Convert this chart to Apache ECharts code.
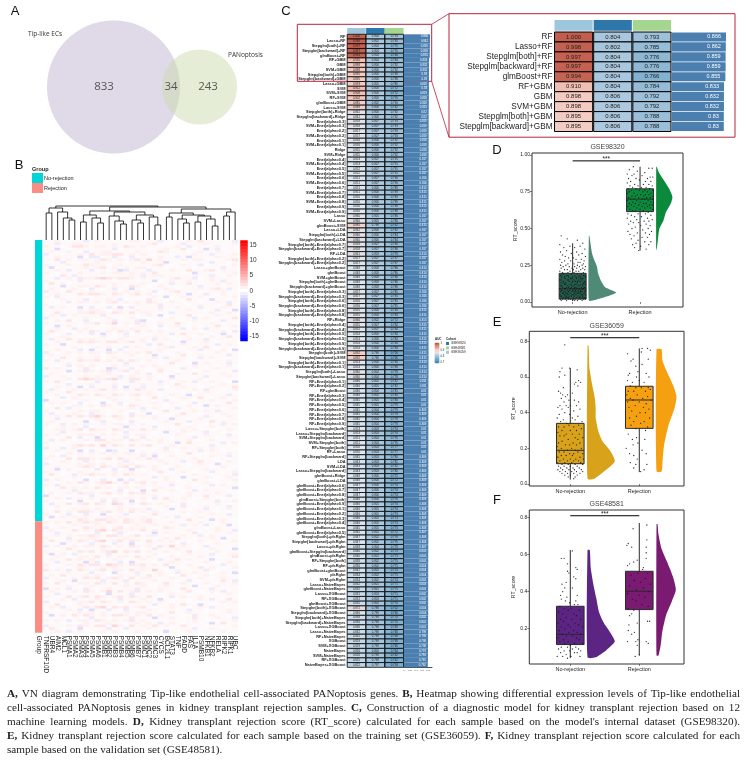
<!DOCTYPE html>
<html><head><meta charset="utf-8"><style>html,body{margin:0;padding:0;background:#fff}#c{width:748px;height:760px}</style>
<script src="https://cdn.jsdelivr.net/npm/echarts@6/dist/echarts.min.js"></script></head><body><div id="c"></div>
<script>
// ---------- Panel A: Venn ----------
const vennNames = ['Tip-like ECs','PANoptosis'];
const vennCounts = [833,34,243];
// ---------- Panel B: heatmap ----------
const genes = ['TNFRSF10D','UBR4','AIM2','MCL1','PSMA1','PSMA2','PSMA3','PSMA4','PSMA5','PSMA6','PSMB1','PSMB2','PSMB3','PSMB4','PSMB5','PSMB6','PSMB7','PSMC1','PSMC2','PSMC3','CYCS','BCL2L1','STAT3','TNF','FADD','FAS','IL1A','PSMB10','NFKB1','NFKB2','RELA','RIPK2','RIPK1','UBC'];
const groupNames = ['No-rejection','Rejection'];
const heatLevels = {z:-4,y:-2.2,x:-1.2,'-':-0.2,'.':0.45,p:0.9,q:1.6,r:2.6};
const heatRowsNoRejection = [
'..p.-..x.p..-..pp...x.-..p.q..-..x','-.x..pp.....p.-...pq..-.x...p..-.p','p..-.qqp.pp.p.qp.p..-..p.x..-.p...','..y.-.......x-....-..p..q.-.y.x-..',
'.p..p.-x..pp...-p...qp...-.p..p.-.','x..-..p.q.ppqq.p.p.-..-...p..x...p','.-p...y-xx-.x.-x-...p..x.y..-.p...','..q.p.pp.pqp.p.pq.r.p...p.pp..-.pq',
'-..x.-...p....-..p...y..-....x..-.','p...p..qp..-.p..-..pq.-.p..x-...-p','.y-.-..p.pq.p.p.pp...-.-..-..-.x..','..p.x...x-.-.yx..-x...p..q..pq.p..',
'p.-...p...p.pp.p.p.q-...-.y...-..p','.-.q.x.-..-....p.x.pp..-..p..x.-p.','..x.p.qppqrqpqqp.p....pq..x-.p...-','p..-..x..-..-...-..y-.p-.p...p.x..',
'.q.p-.......p.-..p.-..x..q.-..p.p.','-..y..pp.qp.p..qp.-.p..-.-.x...-..','.p.-.p.-x.-.x-.y.-...p.-...p.pq.x.','x...q...p...p.p.p..x-.pq.-.-...p.-',
'..p.-.qpqqp.qp.pq.p.-....y..x.-p..','p.x..-..-.-...-....p.y-.p..p.-...p','.-.p...x...p.x-.-.x..-...q.-.y..-.','..-.x.pp.p.pq.p.p.qp..p.-..-..p.x.',
'p...-.....-...-.p...x..-.-.p..-.q.','.x.p.-y-x-.x.y.x-...q..p...x...p..','...-..p.pp.-.p..p...p.-..p..-.x.-y','-.q...ppqpp.qp.q.pp.-.x..-...p..p.',
'.p.x.p....x.-...-.p.y-...q.-..p...','x..-...p...p.-.p..-...p.-.x.p.-..q','.-p.q-.x.-..x...xy.-...-..p..-.x..','p.-....ppq.pr.p.qp..p..q.-...p.-.-',
'..y.p.-.-.-..-.-.p.-x..p.-.-..q..p','-.p..x.p.-..p..p...-.-..x.p.x..-..','.q..-.p.qp.p.qp.q.p.p...-..-...p-x','p.-.x...x-y.-.x-..-...x.q..p.-.y..',
'...p..-.-.p.-.p..-.p..-...-..p..q.','.x..q.p.p..-.p.-.p.x.p.-.p..x...-.','-.p.-.qpqp.qq.pq.p...-..y...p.-...','p..y.-...-..-..-.-x.q...p.-...x.p.',
'.-...p.-.p.p..x.p..-.px.-.p.q.-...','..p.-.x-y-.y-x-.-...p..-...x...p-y','x.-.p.p.pp.qp.p.p.q..-.p.-..-.p...','.p...-.-..-..-.p.-.y..-.q..p..-.x.',
'-..q..p..p-.p..-...p.x...-.x.p..-.','p.x.-.qppq.p.q.qp.p.-..p.-...-..p.','.-..p..-.-...-x..-..-.q..-y.p...x.','..-.x.p.p.-.p.p..p.p...-..p...-.p-',
'q.p..-.x.-.yx.-x-.-.p.-.x...-.p...','-...y.pqp.pq.pq.p.-.q..-..-.p.-..x','.p.-..-..-.p..-.p.x..-.p..q..-.p..','x..p.-.p.p.-.x.p..p.-.y...-.x...p.',
'..-.p.qrqppqrp.qq.p...p.-..p.-.-..','p.q.-.-.-x.-.-.x.-.-x.-.p.x..p..-y','.-..x...p...p.-..p..p..q.-...-.p..','-.p...y-x.-.x-y..x...-..p..-.p...q',
'.x.-.p.p.pq.p.p.qp..x.-...p.x..-.p','p...q.-...-..-..-.p.-...-.-.p.-..-','..p.-.qp.qp.qp.pq.p.-.p..y..-...x.','.-.x.p.-.-.p..-..-.q..-.p..q.-.p..',
'y..-...p..-.p...p..-.x.-..-..p..-p','.p.p.-x-.-y-.x-.-..p..p.-.x...-.q.','-.-..pp.p.qp.p.qp.-..-...p..y.p...','..q.x..-.-...-.p.x.p.-.x...-...-.p',
'p.-.-.p.pp.-.p.-.p.-.q..-.p.p.x..-','.x...p.-x..-..-x..y-..-.q..-...p..','..p.q.qpqrp.qp.q.p.p.-.p..-.x.-.p.','-.x.-..-.p.-.p..-..p..y..-.p...-..',
'.p...-.y-.x.-.-x.-.-.p.-.x...q.p.-','p..x.p.p..p.pp.p.p.-...q.-..-..x.p','.-.p...x-.-.-.y..-.x-.-..p.-.p...-',
'..pp.pq.qpp.qp.p.q.p....p.p..-..p.','-..x...-...-..x.-..-.y..p.-.x..-.-','p.p.-.ppp.p.p.p.pp.-.-.p.-..p...x.','..-.q.x-.y-.-.x-.x-...-...x...-.p.',
'.x.p.-.p.qq.pp.qp.p.p.-..p.-.p...-','p...-..-...p..-...-.p..y.q..-..x.p.','.-.-.pqpq.r.qp.q.pq.-.p....-.x..-.','q..x.p.-.-..-..-.-.-.x..p..p.p...-',
'..p...y-x.-yx-.y-.-..p.-.-.x.p.-..','-.-.p.p.p.p.p.pp.p.p...-.q..-...p.','.p.x.-.-..-...-..x.y-.p..-.-.p..x.','p...q.qqp.pq.qp.p.qp..-...p..-..-.',
'.-.p.-.x.-..-.x.-...p.-.x..q..-.p.','x.-...p.p.p-.p.p.-.-.p...-.p..y...','..p.-.pqp.qp.pq.qp.p.-.p.-...-.p.-','-.y.p.-.-x.-x-.y.-.p..x...-.p...-.',
'p..-..p...-.p..p.-..q.-.p.-..x.-.p','.q.-.x.pqpp.p.qp.p.-.-..-.p..-...x','.-...p.-.-.-..-..-.x.p..y.-.p.-.p.','x.p.-.-y-.x.-y.x-..-.p.-..q..-...p',
'..-.p.qp.pqrp.q.pq.p..p.-...p.-.-.','p.x...-.-.p.-..-.p..-.x...-..x.p..','.-.q.p.p.q.p.pp.p.-.p..-.p.-...-.y','-..-.x.-...-.x-.-y.q..p.-.x.p...-.',
'.p..p.qpp.pq.p.qpq.-.-...p..-.p..-','y.-.-.-.x.-.-.-.-..p.-.-.p..q.-.x.','..p.x.p.p.p.p.pp.p.x.q..p.-.p..-..','p.-.-.y-.-x-x.-y-.-...p..-..-.x..p',
'.x..q.pq.qp.rq.p.qp.p.-.x.-...p.-.','-.p.-...-..-.p..-..-.p..q.-.p...x.','.-.-.p.p.p.-.p.pp.x.-.y..-..x.-.p.','..q.p.qqp.pq.p.q.p.p..-.p..p..-.-.',
'p.-.x.-x.-y-..x-.-.q.-...-.-.p..x.','.y.p.p.p.-.p.p.-.p.-.p.x.-.p..-...','-...-.qp.qqpp.qp.pq..-...q.-.y.p.-'];
const heatRowsRejection = [
'p.p.q.pqpp.qp.qp.pq.-.p.-..p...p.-','.-.-.p.-.p.-..-.p..p..-.x.p.x.-.y.','x..p.-.qp.p.pq.p.p.-.qp..-..-.p...','.p.-.q.p.qr.qp.p.q.p...-.p.-..p..x',
'-.x...-.-x.-.x.-.-.y.p..-.q..-..p.','..p.p.ppqp.qqp.pq.pp.-..p..x.p..-.','p.-.x.-.p.-.-.p..-.-.p.q..-..p.y..','.q..p.qp.qr.pq.qp.q.p.p..-.p...-.p',
'.-.y..-.x.--x..y-.p.-...x.-.-.p...','x.p..p.pp.qp.p.qp.p.q.r.p.-.x...-.','..-.q.-.-.p.-..-.-.x.-.p..-..p.-.y','p...-.qpq.pqr.qpq.p..p...q..-.p...',
'.y.p.x.-.-.x-..-.-.p.-.-.p...x.-.p','-.p.-.pp.q.p.pp.q.p.-.p..-.p..-..q','.p..q.p.p.-.p.-..p..x..q.p.-.y...-','..x.-.-y.x-.-x-y.-.-..p..-..p.-.p.',
'p.-.p.qpqq.rqp.qpq.p.q...p.-...x..','.-..-.p.-.p.p..-.p..-.y.-..q.p.-.p','q.p.x.qp.pq.pp.q.p.r.-.p.-..x.-...','-.-.p.-.x-.-y.-.x.-.p..x..p..-.p.y',
'.p.q...p.p.-.p..p.q.p.-.q.-.p...-.','x..-.p.qpq.pqp.q.pp.-.p.-..p.-.p..','.-.p.y.-.-x.-.x-.-.p...-.x.-...q.x','p.q.-.pp.qp.q.p.qp.-.q..p...p.-..p',
'..-.p.-.p...-.p..p.-.p.-..y.-.p...','y.p.x.-x.-.p.-..x...p.-.q.-..x..-.','.p.-.p.qp.pr.q.pq.p.p..-.q.-.p.x..','..x.-.-.-.-y.-.x-.-.-.p..-..-.-.p.',
'p.-.q.pq.qp.pq.qp.q.-.x.p..p...-.-','.-.p.x.-.p.-.x.-.p..y..-.-.p.x..q.','x.-.-.ppq.qp.p.qp.p.p.-..-.-...p.p','..q.-.p.-.-..-.-.-.x..p.q..y.-.-..',
'.p.x.-.qpqr.qpq.pq.-..p..-.p.x..-.','-.-.p.x-y.-x.-x.-.p.-..-.x..-...p.','p...-.p.p.p.-.p.pp..-.q..p..-.-.p.','.y.p.q.qp.p.qqp.p.q.p.-.-.x..p..-.',
'..-.-.-.x-.-.-.x.-.y..p.-.q.-.p..x','p.p.x.pp.qp.p.pq.p.-.-.-..p.-.-..p','.-.-.-.p.-.p..-.p.p.x.p.-..-.y.q..','x...p.qp.qq.rp.q.p.q.p..q.-.-..-.p',
'.q.-.-y-.-.x-.x.-.p.-.-...x..p.-..','-.p.x.p.-.p.p.-.p.-..y.-.p.-.-.p..'
];
const colorBarValues = [16,15,14,13,12,11,10,9,8,7,6,5,4,3,2,1,0,-1,-2,-3,-4,-5,-6,-7,-8,-9,-10,-11,-12,-13,-14,-15,-16];
const dendrogram = [34,[32,[27,0,0],[28,0,[22,0,[20,0,0]]]],[33,[29,[25,[18,0,0],[22,0,[17,0,0]]],[28,[24,0,[19,0,[16,0,0]]],[25,[20,0,[17,0,0]],[23,0,[15,0,0]]]]],[31,[27,[23,0,0],[25,[21,0,[17,0,0]],[24,[18,0,0],[21,0,[14,0,0]]]]],[28,[24,0,0],0]]]];
// ---------- Panel C: model table ----------
const cohortNames = ['GSE36059','GSE98320','GSE48581'];
const aucLegendValues = [1,0.98,0.96,0.94,0.92,0.9,0.88,0.86,0.84,0.82,0.8,0.78,0.76,0.74,0.72,0.7];
const modelLabels = ['RF','Lasso+RF','Stepglm[both]+RF','Stepglm[backward]+RF','glmBoost+RF','RF+GBM','GBM','SVM+GBM','Stepglm[both]+GBM','Stepglm[backward]+GBM',
'Lasso+GBM','SVM','SVM+SVM','RF+SVM','glmBoost+GBM','Lasso+SVM','Stepglm[both]+Ridge','Stepglm[backward]+Ridge','Enet[alpha=0.3]','SVM+Enet[alpha=0.3]',
'Enet[alpha=0.2]','SVM+Enet[alpha=0.2]','Enet[alpha=0.1]','SVM+Enet[alpha=0.1]','Ridge','SVM+Ridge','Enet[alpha=0.4]','SVM+Enet[alpha=0.4]','Enet[alpha=0.5]','SVM+Enet[alpha=0.5]',
'Enet[alpha=0.6]','SVM+Enet[alpha=0.6]','Enet[alpha=0.7]','SVM+Enet[alpha=0.7]','Enet[alpha=0.8]','SVM+Enet[alpha=0.8]','Enet[alpha=0.9]','SVM+Enet[alpha=0.9]','Lasso','SVM+Lasso',
'glmBoost+SVM','Lasso+LDA','Stepglm[both]+LDA','Stepglm[backward]+LDA','Stepglm[both]+Enet[alpha=0.7]','Stepglm[backward]+Enet[alpha=0.7]','RF+LDA','Stepglm[both]+Enet[alpha=0.2]','Stepglm[backward]+Enet[alpha=0.2]','Lasso+glmBoost',
'glmBoost','SVM+glmBoost','Stepglm[both]+glmBoost','Stepglm[backward]+glmBoost','Stepglm[both]+Enet[alpha=0.3]','Stepglm[backward]+Enet[alpha=0.3]','Stepglm[both]+Enet[alpha=0.6]','Stepglm[backward]+Enet[alpha=0.6]','Stepglm[both]+Enet[alpha=0.8]','Stepglm[backward]+Enet[alpha=0.8]',
'RF+Ridge','Stepglm[both]+Enet[alpha=0.4]','Stepglm[backward]+Enet[alpha=0.4]','Stepglm[both]+Enet[alpha=0.5]','Stepglm[backward]+Enet[alpha=0.5]','Stepglm[both]+Enet[alpha=0.9]','Stepglm[backward]+Enet[alpha=0.9]','Stepglm[both]+SVM','Stepglm[backward]+SVM','Stepglm[both]+Enet[alpha=0.1]',
'Stepglm[backward]+Enet[alpha=0.1]','Stepglm[both]+Lasso','Stepglm[backward]+Lasso','RF+Enet[alpha=0.1]','RF+Enet[alpha=0.2]','RF+glmBoost','RF+Enet[alpha=0.3]','RF+Enet[alpha=0.4]','RF+Enet[alpha=0.5]','RF+Enet[alpha=0.6]',
'RF+Enet[alpha=0.7]','RF+Enet[alpha=0.8]','RF+Enet[alpha=0.9]','Lasso+Stepglm[both]','Lasso+Stepglm[backward]','SVM+Stepglm[backward]','SVM+Stepglm[both]','RF+Stepglm[both]','RF+Lasso','RF+Stepglm[backward]',
'LDA','SVM+LDA','Lasso+Stepglm[backward]','glmBoost+Ridge','glmBoost+LDA','glmBoost+Enet[alpha=0.6]','glmBoost+Enet[alpha=0.7]','glmBoost+Enet[alpha=0.8]','glmBoost+Stepglm[both]','glmBoost+Enet[alpha=0.9]',
'glmBoost+Enet[alpha=0.1]','glmBoost+Enet[alpha=0.2]','glmBoost+Enet[alpha=0.3]','glmBoost+Enet[alpha=0.4]','glmBoost+Lasso','glmBoost+Enet[alpha=0.5]','Stepglm[both]+plsRglm','Stepglm[backward]+plsRglm','Lasso+plsRglm','glmBoost+Stepglm[backward]',
'glmBoost+plsRglm','RF+Stepglm[both]','RF+plsRglm','glmBoost+glmBoost','plsRglm','SVM+plsRglm','Lasso+NaiveBayes','glmBoost+NaiveBayes','Lasso+XGBoost','RF+XGBoost',
'glmBoost+XGBoost','Stepglm[both]+XGBoost','Stepglm[backward]+XGBoost','Stepglm[both]+NaiveBayes','Stepglm[backward]+NaiveBayes','Lasso+XGBoost','Lasso+NaiveBayes','RF+NaiveBayes','XGBoost','SVM+XGBoost',
'NaiveBayes','SVM+NaiveBayes','RF+XGBoost','NaiveBayes+XGBoost'];
const aucCol1 = [1.000,.998,.997,.997,.994,.910,.898,.898,.895,.895,
.893,.912,.908,.902,.885,.888,.862,.861,.858,.858,
.857,.857,.856,.856,.855,.855,.853,.853,.852,.852,
.851,.851,.851,.851,.850,.850,.850,.850,.860,.860,
.885,.862,.860,.860,.858,.858,.861,.857,.857,.848,
.848,.848,.848,.848,.857,.857,.856,.856,.855,.855,
.866,.855,.855,.854,.854,.854,.854,.892,.892,.853,
.853,.860,.860,.846,.846,.846,.846,.845,.845,.845,
.845,.845,.845,.853,.853,.851,.851,.850,.850,.845,
.843,.843,.843,.848,.848,.847,.847,.847,.846,.846,
.846,.846,.846,.846,.845,.845,.847,.847,.838,.840,
.840,.838,.836,.842,.834,.834,.832,.832,.831,.831,
.835,.872,.846,.838,.836,.836,.832,.832,.829,.829,
.826,.828,.825,.822];
const aucCol2 = [.804,.802,.804,.804,.804,.804,.806,.806,.806,.806,
.805,.806,.806,.806,.802,.804,.806,.806,.807,.807,
.807,.807,.806,.806,.806,.806,.807,.807,.807,.807,
.807,.807,.806,.806,.806,.806,.806,.806,.805,.805,
.798,.806,.806,.806,.807,.807,.803,.807,.807,.808,
.808,.808,.808,.808,.807,.807,.807,.807,.806,.806,
.802,.807,.807,.806,.806,.806,.806,.796,.796,.806,
.806,.804,.804,.805,.805,.804,.805,.805,.805,.804,
.804,.804,.804,.803,.803,.804,.804,.803,.803,.803,
.803,.803,.803,.806,.806,.806,.806,.806,.804,.805,
.805,.805,.805,.805,.805,.805,.802,.802,.804,.802,
.801,.802,.802,.801,.802,.802,.801,.801,.803,.803,
.800,.788,.799,.799,.798,.798,.798,.798,.799,.799,
.800,.798,.798,.797];
const aucCol3 = [.793,.785,.776,.776,.766,.784,.792,.792,.788,.788,
.786,.772,.772,.776,.790,.782,.792,.792,.793,.793,
.793,.793,.792,.792,.792,.792,.791,.791,.791,.791,
.790,.790,.789,.789,.789,.789,.788,.788,.786,.786,
.762,.782,.784,.784,.786,.786,.778,.787,.787,.786,
.786,.786,.786,.786,.785,.785,.785,.785,.784,.784,
.772,.784,.784,.784,.784,.784,.784,.756,.756,.784,
.784,.778,.778,.782,.782,.781,.780,.780,.779,.779,
.778,.778,.778,.774,.774,.776,.776,.777,.777,.780,
.782,.782,.780,.772,.772,.774,.774,.774,.776,.774,
.774,.773,.773,.773,.773,.772,.776,.776,.778,.773,
.773,.775,.775,.770,.775,.774,.775,.775,.771,.771,
.770,.752,.766,.770,.770,.769,.768,.768,.766,.766,
.764,.762,.762,.758];
// ---------- Panels D/E/F: raincloud ----------
// each box: [low whisker, q1, median, q3, high whisker]
const boxD = [[0.01,0.02,0.09,0.195,0.40],[0.35,0.615,0.70,0.77,0.92]];
const boxE = [[0.025,0.114,0.189,0.34,0.65],[0.067,0.312,0.471,0.548,0.76]];
const boxF = [[0.041,0.114,0.169,0.321,0.625],[0.054,0.303,0.402,0.51,0.771]];
// density outlines: [y, relative width]
const densD0 = [[.01,.15],[.063,1],[.10,.6],[.15,.43],[.195,.34],[.24,.3],[.285,.2],[.33,.12],[.40,.06],[.45,.02]];
const densD1 = [[.353,.02],[.42,.1],[.50,.2],[.555,.45],[.61,.6],[.67,.9],[.715,1],[.77,.8],[.84,.4],[.885,.15],[.92,.03]];
const densE0 = [[.03,.25],[.07,.6],[.127,1],[.183,.85],[.24,.55],[.295,.4],[.37,.3],[.425,.3],[.48,.27],[.557,.17],[.65,.07],[.775,.04]];
const densE1 = [[.07,.25],[.127,.3],[.22,.38],[.33,.6],[.425,.9],[.49,1],[.548,.85],[.61,.6],[.69,.3],[.755,.25]];
const densF0 = [[.045,.3],[.085,.7],[.13,1],[.175,.85],[.23,.6],[.29,.42],[.365,.32],[.435,.22],[.525,.12],[.625,.08]];
const densF1 = [[.055,.1],[.115,.22],[.185,.3],[.275,.5],[.35,.8],[.41,1],[.48,.85],[.56,.55],[.635,.25],[.71,.1],[.765,.05]];
// jitter points as flat pairs: horizontal offset (x100), score (x100)
const ptsD0 = [-17,45,-8,43,7,42,15,40,-19,39,-4,38,11,38,-13,37,3,37,18,36,-9,35,-18,34,6,34,14,33,-2,33,-15,32,9,32,-11,31,19,31,1,30,-6,30,-19,29,13,29,5,29,-12,28,17,28,-3,28,8,27,-16,27,11,27,-7,26,2,26,16,26,-18,25,-10,25,7,25,14,25,-5,24,-14,24,19,24,3,24,10,24,-1,23,-17,23,6,23,15,23,-8,22,-12,22,1,22,12,22,18,22,-19,21,-4,21,5,21,9,21,-15,20,-7,20,16,20,2,20,
-13,19,-2,19,7,19,13,19,-18,18,-9,18,3,18,10,18,17,18,-6,17,-16,17,0,17,12,17,19,17,-11,16,-3,16,6,16,15,16,-19,15,-8,15,2,15,9,15,14,15,-14,14,-5,14,4,14,11,14,18,14,-17,13,-10,13,-1,13,7,13,16,13,-12,12,-4,12,3,12,12,12,19,12,-18,11,-7,11,1,11,8,11,15,11,-15,10,-9,10,-2,10,5,10,13,10,18,10,-19,9,-11,9,-3,9,6,9,10,9,16,9,-16,8,-8,8,0,8,4,8,12,8,19,8,-13,7,-6,7,2,7,9,7,14,7,-18,7,-10,6,-4,6,3,6,7,6,11,6,17,6,-15,6,-7,5,-1,5,5,5,13,5,19,5,-19,5,-12,5,-9,4,-2,4,8,4,15,4,-16,4,-5,4,1,3,6,3,10,3,18,3,-14,3,-8,3,-3,2,4,2,12,2,16,2,-18,2,-11,2,-6,2,0,1,7,1,14,1,-17,1,-9,1,3,1,19,2,
-16,19,-7,18,5,17,16,18,-12,17,-1,16,9,17,-17,15,-6,15,12,16,-13,13,0,14,7,14,17,13,-10,12,-2,11,5,12,15,12,-16,11,-6,10,3,10,10,11,17,10,-12,9,-5,8,2,9,8,8,14,9,-17,8,-11,7,-1,7,5,7,12,7,18,7,-14,6,-8,6,1,5,9,6,15,5,-18,4,-11,4,-6,3,3,4,11,4,17,3,-15,2,-10,3,1,2,9,2,14,3];
const ptsD1 = [-10,92,13,91,18,91,-16,90,-4,89,7,88,-19,87,-9,87,-12,86,3,86,15,85,19,85,-17,84,-6,84,11,84,-1,83,-14,82,8,82,16,82,-19,81,5,80,-8,80,13,80,-15,79,-3,79,18,79,-11,78,9,78,2,78,-18,77,-6,77,14,77,7,76,-13,76,19,76,-1,76,-16,75,4,75,11,75,-9,74,16,74,-19,74,-4,73,1,73,8,73,13,73,-12,72,-7,72,18,72,5,72,-17,71,-2,71,10,71,15,71,-14,70,3,70,-9,70,7,70,19,70,-19,69,-5,69,12,69,-11,68,0,68,16,68,-16,67,-7,67,5,67,9,67,14,66,-13,66,-2,66,18,66,-18,65,-9,65,3,65,11,65,-5,64,7,64,15,64,-15,63,0,63,19,63,-11,62,-7,62,5,62,12,61,-18,60,-3,60,8,60,-13,59,16,59,-8,58,2,58,-19,57,11,57,-5,56,18,56,-14,55,6,55,13,55,-10,54,-2,54,-17,53,9,53,1,52,15,52,-7,51,-12,50,12,50,4,49,-18,48,17,48,-4,47,8,47,-15,46,14,46,-9,45,3,44,11,44,-13,43,-3,42,7,41,16,41,-6,40,-11,39,13,39,1,38,-8,37,9,36,-2,35];
const ptsE0 = [-8,78,-12,65,-1,65,10,64,-15,63,-16,60,-8,61,12,58,8,57,15,57,11,55,6,56,-10,54,-17,52,-14,51,-4,50,3,51,-11,50,-7,49,-13,48,-2,47,-9,46,6,47,12,46,-15,44,-6,44,0,44,9,44,-18,43,-12,42,-3,43,14,42,5,41,-16,39,-8,40,-1,39,11,38,-19,37,-10,36,3,37,7,36,17,35,-14,35,-5,34,-2,33,12,33,-17,32,-9,32,5,32,16,31,-12,30,0,30,9,30,-18,29,-6,28,13,28,3,28,-15,27,-9,27,7,26,18,26,-3,25,11,25,-12,24,-17,23,4,23,14,23,-7,22,-1,22,9,22,-19,21,-13,20,2,20,16,20,-4,19,7,19,-16,18,-9,18,11,18,-1,17,5,17,18,17,-13,16,-6,16,3,16,14,15,-18,15,-10,14,0,14,8,14,19,14,-15,13,-4,13,5,13,12,13,-19,12,-8,12,2,12,15,12,-12,11,-3,11,7,11,18,11,-17,10,-9,10,0,10,10,10,-14,9,-5,9,4,9,13,9,-18,8,-11,8,-2,8,6,8,16,8,-15,7,-7,7,2,7,9,7,18,7,-12,6,-4,6,5,6,14,6,-8,5,0,5,10,5,-3,4,7,4,5,3];
const ptsE1 = [4,76,12,76,16,75,-17,73,3,74,-9,70,13,70,-12,69,4,67,-5,66,-2,63,10,62,-14,62,-16,61,-4,60,14,60,-17,58,0,58,-10,57,7,57,-13,55,13,54,-5,54,3,54,16,53,-16,52,-8,52,9,52,-18,50,-3,50,12,49,-13,48,5,48,-9,47,17,47,-17,46,0,46,10,45,-6,44,-15,43,6,43,14,42,-11,41,1,40,9,40,-4,38,-14,37,15,37,-8,35,7,35,2,34,-12,33,12,32,-5,31,9,30,-16,28,-4,26,-10,25,8,25,-2,23,-9,22,-19,20,4,19,-14,17,-8,16,10,17,-3,14,-13,12,-5,11,11,11,-8,9,7,8,2,7];
const ptsF0 = [3,62,-9,58,-13,58,-4,55,8,53,10,52,-4,51,-2,50,5,48,8,47,-6,45,-12,44,-8,42,3,42,-11,40,-14,38,-5,37,10,38,-13,36,-7,35,8,35,-1,34,11,33,6,33,-15,32,-9,31,1,31,-3,30,13,30,-17,29,-11,28,5,28,9,27,-6,26,-14,25,2,25,15,25,-10,24,7,23,-18,23,-3,22,12,22,-13,21,0,21,18,21,-8,20,5,19,-16,19,10,18,-2,18,-12,17,15,17,-6,16,3,16,-18,15,9,15,-10,14,13,14,-3,13,-15,13,6,12,18,12,-8,12,0,11,-13,10,-4,10,8,10,12,9,-17,9,3,9,-9,8,-1,8,15,8,-14,7,6,7,10,7,-6,6,-19,5,-11,5,1,5,14,5,-4,4];
const ptsF1 = [11,76,-9,74,-18,65,-16,66,-11,64,11,68,10,64,10,61,10,58,-3,57,-14,55,-8,56,-17,54,6,53,5,52,12,50,-2,50,-12,49,9,47,-7,46,2,45,16,44,-14,43,6,42,-4,41,14,40,-17,39,0,38,8,37,-10,36,-5,35,4,33,13,32,-16,31,-8,30,-11,28,-14,27,12,24,15,24,-15,22,-3,23,-16,19,-7,18,-11,17,-17,13,-2,14,-5,13,10,13,13,12,-3,11,-6,5,0,6];
// ---------- Caption ----------
const captionLines = [
'{b|A,} VN diagram demonstrating Tip-like endothelial cell-associated PANoptosis genes. {b|B,} Heatmap showing differential expression levels of Tip-like endothelial',
'cell-associated PANoptosis genes in kidney transplant rejection samples. {b|C,} Construction of a diagnostic model for kidney transplant rejection based on 12',
"machine learning models. {b|D,} Kidney transplant rejection score (RT_score) calculated for each sample based on the model's internal dataset (GSE98320).",
'{b|E,} Kidney transplant rejection score calculated for each sample based on the training set (GSE36059). {b|F,} Kidney transplant rejection score calculated for each',
'sample based on the validation set (GSE48581).'];

// ---------- build ----------
const heatRows = heatRowsNoRejection.concat(heatRowsRejection);
const groupCounts = [heatRowsNoRejection.length,heatRowsRejection.length];
const SANS='"Liberation Sans",Arial,sans-serif';
const grids=[],xAxes=[],yAxes=[],series=[],gfx=[];
function addGrid(x0,y0,x1,y1,xa,ya,extra){const i=grids.length;grids.push(Object.assign({left:x0,top:y0,width:x1-x0,height:y1-y0},extra||{}));xAxes.push(Object.assign({gridIndex:i},xa));yAxes.push(Object.assign({gridIndex:i},ya));return i;}
const hiddenVal=(min,max)=>({type:'value',min,max,show:false,splitLine:{show:false}});
const hiddenCat=(data,inv)=>({type:'category',data,show:false,inverse:!!inv,splitLine:{show:false}});
function text(x,y,t,size,opt){gfx.push({type:'text',silent:true,x,y,style:Object.assign({text:t,fontSize:size,fontFamily:SANS,fill:'#222',align:'left',verticalAlign:'middle'},opt||{})});}

// panel letters
[['A',15,11],['B',19,165],['C',286,11],['D',497,150],['E',497,322],['F',497,500]].forEach(l=>text(l[1],l[2],l[0],13,{align:'center',fill:'#111'}));

// A: Venn. circle area follows set size
const vGrid=addGrid(40,20,245,154,hiddenVal(0,205),hiddenVal(0,134));
const vennK=2.26;
const setSizes=[vennCounts[0]+vennCounts[1],vennCounts[1]+vennCounts[2]];
series.push({type:'scatter',xAxisIndex:vGrid,yAxisIndex:vGrid,silent:true,data:[[73.5,67]],symbolSize:2*vennK*Math.sqrt(setSizes[0]),itemStyle:{color:'rgb(191,179,209)',opacity:.5}});
series.push({type:'scatter',xAxisIndex:vGrid,yAxisIndex:vGrid,silent:true,data:[[159.5,67]],symbolSize:2*vennK*Math.sqrt(setSizes[1]),itemStyle:{color:'rgb(203,219,173)',opacity:.5}});
series.push({type:'scatter',xAxisIndex:vGrid,yAxisIndex:vGrid,silent:true,symbolSize:0,data:[[64,67],[131,67],[168,67]].map((p,i)=>({value:p,label:{formatter:String(vennCounts[i])}})),label:{show:true,position:'inside',fontSize:11.5,color:'#333',fontFamily:'"Open Sans"'}});
text(28,34,vennNames[0],6.5,{fontFamily:'"Open Sans"',fill:'#333'});
text(228,55,vennNames[1],6.5,{fontFamily:'"Open Sans"',fill:'#333'});

// B: group strip
const rowsN=heatRows.length;
const gb=addGrid(35,240,42.3,632.7,{type:'category',data:['Group'],axisLine:{show:false},axisTick:{show:false},axisLabel:{rotate:-90,fontSize:6.5,margin:3,color:'#222',fontFamily:SANS}},hiddenVal(0,rowsN));
yAxes[gb].inverse=true;
groupNames.forEach((n,i)=>series.push({type:'bar',name:n,stack:'g',xAxisIndex:gb,yAxisIndex:gb,barWidth:'100%',data:[groupCounts[i]],itemStyle:{color:['#00d5d8','#fb8d84'][i]},silent:true}));
text(32,169,'Group',5.5,{fontWeight:'bold'});
// B: heat
const hb=addGrid(43.3,240,238,632.7,{type:'category',data:genes,axisLine:{show:false},axisTick:{show:false},splitLine:{show:false},axisLabel:{interval:0,rotate:-90,fontSize:6.5,margin:3,color:'#222',fontFamily:SANS}},hiddenCat(heatRows.map((_,i)=>i),true));
const heatData=[];heatRows.forEach((r,ri)=>genes.forEach((g,ci)=>heatData.push([ci,ri,heatLevels[r[ci]]??0.45])));
const heatIdx=series.length;
series.push({type:'heatmap',xAxisIndex:hb,yAxisIndex:hb,data:heatData,silent:true,progressive:0});
// B: colour bar
const cb=addGrid(240.5,240.5,247.5,341,hiddenCat(['v']),{type:'category',inverse:true,position:'right',data:colorBarValues.map(String),axisLine:{show:false},axisTick:{show:false},axisLabel:{interval:(i,v)=>(+v)%5===0,fontSize:6.5,margin:2,color:'#333',fontFamily:SANS}});
const cbIdx=series.length;
series.push({type:'heatmap',xAxisIndex:cb,yAxisIndex:cb,data:colorBarValues.map((v,i)=>[0,i,v]),silent:true});
// B: dendrogram
const dg=addGrid(43.3,205,238,240,hiddenVal(-0.5,genes.length-0.5),hiddenVal(0,35));
const dSegs=[];let leaf=0;
(function walk(n){if(n===0){return [leaf++,0];}
 const a=walk(n[1]),b=walk(n[2]),h=n[0];
 dSegs.push([a[0],a[1],a[0],h],[a[0],h,b[0],h],[b[0],h,b[0],b[1]]);
 return [(a[0]+b[0])/2,h];})(dendrogram);
series.push({type:'custom',xAxisIndex:dg,yAxisIndex:dg,silent:true,clip:false,data:dSegs,encode:{x:[0,2],y:[1,3]},renderItem:(p,api)=>{const s=api.coord([api.value(0),api.value(1)]),e=api.coord([api.value(2),api.value(3)]);return {type:'line',shape:{x1:s[0],y1:s[1],x2:e[0],y2:e[1]},style:{stroke:'#000',lineWidth:.8}};}});

// C: tables
const colours=['#9ec6dd','#2e77ab','#a5d690'];
const aucRows=modelLabels.map((_,i)=>[aucCol1[i],aucCol2[i],aucCol3[i]]);
const meanAuc=aucRows.map(r=>parseFloat(((r[0]+r[1]+r[2])/3).toFixed(3)));
const aucSeries=[];
function table(o){
 const labels=modelLabels.slice(0,o.n);
 const cols=[0,1,2];
 const hg=addGrid(o.x0,o.hy0,o.x1,o.hy1,hiddenCat(cols),hiddenVal(0,1));
 cols.forEach(c=>series.push({type:'custom',name:cohortNames[c],xAxisIndex:hg,yAxisIndex:hg,silent:true,itemStyle:{color:colours[c]},data:[[c,0,1]],encode:{x:0,y:[1,2]},renderItem:(p,api)=>{const b=api.coord([api.value(0),0]),t=api.coord([api.value(0),1]),w=api.size([1,0])[0];return {type:'rect',shape:{x:b[0]-w/2+o.gap,y:t[1],width:w-2*o.gap,height:b[1]-t[1]},style:{fill:colours[c]}};}}));
 const tg=addGrid(o.x0,o.y0,o.x1,o.y1,hiddenCat(cols),{type:'category',inverse:true,data:labels,axisLine:{show:false},axisTick:{show:false},splitLine:{show:false},axisLabel:{interval:0,margin:o.margin,fontSize:o.labelSize,color:'#222',fontFamily:SANS,fontWeight:o.bold?'bold':'normal'}});
 const data=[];aucRows.slice(0,o.n).forEach((r,ri)=>r.forEach((v,ci)=>data.push([ci,ri,v])));
 aucSeries.push(series.length);
 series.push({type:'custom',xAxisIndex:tg,yAxisIndex:tg,silent:true,data,encode:{x:0,y:1},renderItem:(p,api)=>{const c=api.coord([api.value(0),api.value(1)]),s=api.size([1,1]);
  return {type:'group',children:[{type:'rect',shape:{x:c[0]-s[0]/2+o.gap,y:c[1]-s[1]/2,width:s[0]-2*o.gap,height:s[1]},style:{fill:api.visual('color'),stroke:'#000',lineWidth:o.lw}},{type:'text',style:{x:c[0],y:c[1],text:api.value(2).toFixed(3),align:'center',verticalAlign:'middle',fontSize:o.cellSize,fontFamily:SANS,fill:'#222'}}]};}});
 const bg=addGrid(o.bx0,o.y0,o.bx1,o.y1,o.barAxis,hiddenCat(labels,true));
 series.push({type:'bar',xAxisIndex:bg,yAxisIndex:bg,silent:true,barCategoryGap:o.barGap,data:meanAuc.slice(0,o.n),itemStyle:{color:'#4a7fb0'},label:{show:true,position:'insideRight',distance:o.barDist,color:'#fff',fontSize:o.barLabel,fontFamily:SANS,formatter:p=>String(p.value)}});
}
table({n:modelLabels.length,x0:347,x1:403.7,hy0:28,hy1:34,y0:34.3,y1:667.3,gap:0.2,lw:.8,margin:1.5,labelSize:3.9,bold:true,cellSize:2.8,bx0:404,bx1:432,barGap:'0%',barDist:2,barLabel:2.8,
 barAxis:{type:'value',min:0,max:.93,interval:.2,splitLine:{show:false},axisLine:{show:true,onZero:false,lineStyle:{color:'#000',width:.7}},axisTick:{length:1.5,lineStyle:{color:'#000',width:.5}},axisLabel:{fontSize:2.5,margin:1.5,color:'#222',hideOverlap:false}}});
table({n:10,x0:554,x1:671.5,hy0:20,hy1:30.7,y0:32,y1:131.5,gap:0.5,lw:1,margin:1.5,labelSize:8.2,bold:false,cellSize:6,bx0:672,bx1:726,barGap:'8%',barDist:5,barLabel:5.5,barAxis:hiddenVal(0,.865)});
// C: zoom frame
const RED='#b5263c';
gfx.push({type:'rect',silent:true,shape:{x:297.3,y:24.3,width:134.4,height:57},style:{fill:'none',stroke:RED,lineWidth:1}});
gfx.push({type:'rect',silent:true,shape:{x:449,y:13.7,width:286,height:123.5},style:{fill:'none',stroke:RED,lineWidth:1}});
gfx.push({type:'line',silent:true,shape:{x1:431.7,y1:24.3,x2:449,y2:13.7},style:{stroke:RED,lineWidth:.8}});
gfx.push({type:'line',silent:true,shape:{x1:431.7,y1:81.3,x2:449,y2:137.2},style:{stroke:RED,lineWidth:.8}});
// C: legends
text(435,339,'AUC',3,{fontWeight:'bold'});text(446,339,'Cohort',3,{fontWeight:'bold'});
const ag=addGrid(435,343,439,363,hiddenCat(['v']),{type:'category',inverse:true,position:'right',data:aucLegendValues.map(String),axisLine:{show:false},axisTick:{show:false},axisLabel:{interval:(i,v)=>Math.abs(v*10-Math.round(v*10))<1e-6,fontSize:2.8,margin:1.5,color:'#333',fontFamily:SANS}});
aucSeries.push(series.length);
series.push({type:'heatmap',xAxisIndex:ag,yAxisIndex:ag,silent:true,data:aucLegendValues.map((v,i)=>[0,i,v])});

// D/E/F
function cloud(o){
 const g=addGrid(o.x0,o.y0,o.x1,o.y1,{type:'value',min:o.xMin,max:o.xMax,splitLine:{show:false},axisLine:{show:false},axisTick:{show:true,customValues:[1,2],length:2,lineStyle:{color:'#333',width:.6}},axisLabel:{customValues:[1,2],formatter:v=>groupNames[v-1],fontSize:5.5,margin:2,color:'#222',fontFamily:SANS}},
  {type:'value',min:o.yMin,max:o.yMax,splitLine:{show:false},axisLine:{show:false},axisTick:{show:true,customValues:o.ticks,length:2,lineStyle:{color:'#333',width:.6}},axisLabel:{customValues:o.ticks,formatter:v=>v.toFixed(o.dec),fontSize:5,margin:2,color:'#222',fontFamily:SANS}},{show:true,borderColor:'#333',borderWidth:1,backgroundColor:'#fff'});
 text((o.x0+o.x1)/2,o.y0-5.5,o.title,7,{align:'center',fill:'#444'});
 gfx.push({type:'text',silent:true,x:o.x0-16,y:(o.y0+o.y1)/2,rotation:Math.PI/2,style:{text:'RT_score',fontSize:5.2,fontFamily:SANS,fill:'#222',align:'center',verticalAlign:'middle'}});
 [0,1].forEach(i=>{
  const cx=i+1,b=o.box[i],col=o.colors[i],vcol=o.violin[i];
  const d=o.dens[i],base=cx+o.vBase,w=o.vWidth[i];
  series.push({type:'custom',xAxisIndex:g,yAxisIndex:g,silent:true,clip:false,z:2,data:d,encode:{y:0},renderItem:(p,api)=>{if(p.dataIndex!==0)return null;
    const pts=[api.coord([base,d[0][0]])];d.forEach(q=>pts.push(api.coord([base+q[1]*w,q[0]])));pts.push(api.coord([base,d[d.length-1][0]]));
    return {type:'polygon',shape:{points:pts,smooth:.2},style:{fill:vcol}};}});
  series.push({type:'custom',xAxisIndex:g,yAxisIndex:g,silent:true,clip:false,z:3,data:[[cx,...b]],encode:{x:0,y:[1,5]},renderItem:(p,api)=>{const x=api.value(0),C=v=>api.coord([x,v]),hw=api.size([.2,0])[0],v=[1,2,3,4,5].map(k=>C(api.value(k))),ls={stroke:'#2a2a2a',lineWidth:1};
    return {type:'group',children:[{type:'line',shape:{x1:v[0][0],y1:v[0][1],x2:v[0][0],y2:v[4][1]},style:ls},{type:'rect',shape:{x:v[0][0]-hw,y:v[3][1],width:2*hw,height:v[1][1]-v[3][1]},style:{fill:col,stroke:'#2a2a2a',lineWidth:1}},{type:'line',shape:{x1:v[0][0]-hw,y1:v[2][1],x2:v[0][0]+hw,y2:v[2][1]},style:ls}]};}});
  const pts=[];for(let k=0;k<o.pts[i].length;k+=2)pts.push([cx+o.pts[i][k]/100,o.pts[i][k+1]/100]);
  series.push({type:'scatter',xAxisIndex:g,yAxisIndex:g,silent:true,z:4,symbolSize:1.3,itemStyle:{color:'#151515',opacity:.9},data:pts});
 });
 series.push({type:'line',xAxisIndex:g,yAxisIndex:g,silent:true,z:5,symbol:'none',lineStyle:{color:'#000',width:1},data:[[1,o.sig],[2,o.sig]],markPoint:{silent:true,symbol:'circle',symbolSize:0,data:[{coord:[1.5,o.sig],label:{show:true,position:'top',distance:-1.5,formatter:'***',fontSize:6.5,color:'#111',fontFamily:SANS}}]}});
}
cloud({title:'GSE98320',x0:532,x1:683,y0:153,y1:307,xMin:.397,xMax:2.637,yMin:-.034,yMax:1.0136,ticks:[0,.25,.5,.75,1],dec:2,box:boxD,dens:[densD0,densD1],vBase:.24,vWidth:[.405,.24],colors:['#265e4d','#0a8a3a'],violin:['#4f8a76','#0a8a3a'],pts:[ptsD0,ptsD1],sig:.96});
cloud({title:'GSE36059',x0:529.3,x1:684,y0:331.3,y1:486,xMin:.406,xMax:2.648,yMin:-.011,yMax:.856,ticks:[0,.2,.4,.6,.8],dec:1,box:boxE,dens:[densE0,densE1],vBase:.25,vWidth:[.395,.29],colors:['#d9a21b','#f5a010'],violin:['#d9a21b','#f5a010'],pts:[ptsE0,ptsE1],sig:.82});
cloud({title:'GSE48581',x0:529.3,x1:684,y0:510,y1:664,xMin:.406,xMax:2.648,yMin:.009,yMax:.841,ticks:[.2,.4,.6,.8],dec:1,box:boxF,dens:[densF0,densF1],vBase:.25,vWidth:[.395,.28],colors:['#5c2483','#7a1a70'],violin:['#5c2483','#7a1a70'],pts:[ptsF0,ptsF1],sig:.81});

// caption: justified to the text block, as in the page it came from
const CF='"Liberation Serif"',CS=11.2,CW=733,measure=document.createElement('canvas').getContext('2d');
captionLines.forEach((l,i)=>{
 const toks=l.split(' ').map(w=>w.startsWith('{b|')?{t:w.slice(3).replace('}',''),b:true}:{t:w,b:false});
 toks.forEach(k=>{measure.font=(k.b?'bold ':'')+CS+'px '+CF;k.w=measure.measureText(k.t).width;});
 const total=toks.reduce((a,k)=>a+k.w,0);
 const gap=i<captionLines.length-1?(CW-total)/(toks.length-1):CS*.25;
 let x=7;toks.forEach(k=>{gfx.push({type:'text',silent:true,x,y:694+i*14,style:{text:k.t,fontFamily:CF,fontSize:CS,fontWeight:k.b?'bold':'normal',fill:'#222',align:'left',verticalAlign:'middle'}});x+=k.w+gap;});
});

const chart=echarts.init(document.getElementById('c'),null,{renderer:'canvas'});
chart.setOption({animation:false,backgroundColor:'#fff',grid:grids,xAxis:xAxes,yAxis:yAxes,series,graphic:{elements:gfx},
 legend:[{data:groupNames,left:32,top:173,orient:'vertical',itemWidth:11,itemHeight:10,itemGap:0,padding:0,icon:'rect',selectedMode:false,textStyle:{fontSize:5.5,color:'#222',fontFamily:SANS,padding:[0,0,0,-4]}},
  {data:[cohortNames[1],cohortNames[2],cohortNames[0]],left:446,top:342,orient:'vertical',itemWidth:3,itemHeight:3,itemGap:1.4,padding:0,icon:'rect',selectedMode:false,textStyle:{fontSize:3,color:'#222',fontFamily:SANS,padding:[0,0,0,-3]}}],
 visualMap:[{show:false,seriesIndex:[heatIdx,cbIdx],min:-16,max:16,dimension:2,inRange:{color:['#0000ff','#ffffff','#ff0000']}},
  {show:false,seriesIndex:aucSeries,min:.7,max:1,dimension:2,inRange:{color:['#3d8bb8','#70a9cc','#a5c5dd','#dce8f2','#f6c9bf','#dd9080','#c25e4d']}}]});
</script></body></html>
